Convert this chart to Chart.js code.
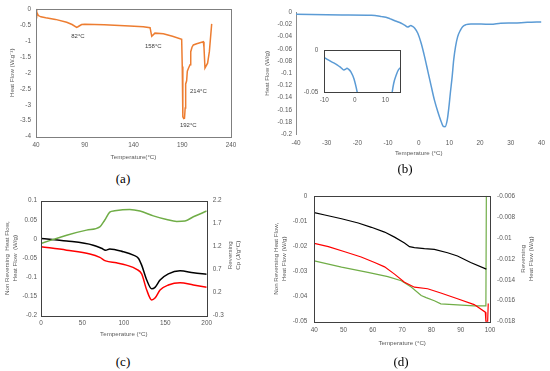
<!DOCTYPE html>
<html>
<head>
<meta charset="utf-8">
<script src="https://cdn.jsdelivr.net/npm/chart.js@4.4.1/dist/chart.umd.min.js"></script>
<style>
  body { margin: 0; background: #fff; width: 550px; height: 371px; position: relative; overflow: hidden; }
  canvas { position: absolute; }
  .tag { position: absolute; font: 13px "Liberation Serif", "Times New Roman", serif; color: #000; transform: translate(-50%, -50%); }
</style>
</head>
<body>
<canvas id="ca" width="275" height="165" style="left:0;top:0"></canvas>
<canvas id="cb" width="295" height="165" style="left:255px;top:0"></canvas>
<canvas id="cbi" width="110" height="70" style="left:300px;top:40px"></canvas>
<canvas id="cc" width="250" height="152" style="left:0;top:190px"></canvas>
<canvas id="cd" width="278" height="165" style="left:272px;top:185px"></canvas>
<div class="tag" style="left:123px;top:179px">(a)</div>
<div class="tag" style="left:405px;top:169px">(b)</div>
<div class="tag" style="left:123px;top:362px">(c)</div>
<div class="tag" style="left:401px;top:362px">(d)</div>
<script>
// ---- (a) heat flow vs temperature
const aTemp = [40, 40.7, 42.4, 45, 50, 60, 71.5, 77, 81.7, 83, 86.8, 90, 110, 136, 150, 157, 158.7, 162, 170.6, 180,
  189.4, 190, 190.6, 191.5, 192.3, 193, 193.5, 194.5, 195.2, 196.5, 198, 198.7, 200, 201.4, 204.8, 211.6, 212.3, 213.3, 216, 217.8, 220.2];
const aFlow = [0, -0.1, -0.21, -0.25, -0.28, -0.33, -0.42, -0.49, -0.58, -0.56, -0.49, -0.48, -0.5, -0.54, -0.56, -0.59, -0.86, -0.76, -0.78, -0.86,
  -0.95, -1.8, -3.38, -3.43, -3.42, -3.1, -2.35, -2.25, -1.95, -1.85, -1.75, -1.34, -1.2, -1.13, -1.09, -1.03, -1.2, -1.85, -1.7, -1.34, -0.47];
const aXTicks = [40, 90, 140, 190, 240];
const aYTicks = [0, -0.5, -1, -1.5, -2, -2.5, -3, -3.5, -4];
const aNoteText = ['82°C', '158°C', '192°C', '214°C'];
const aNoteTemp = [83, 160.3, 196.2, 206.5];
const aNoteFlow = [-0.85, -1.16, -3.64, -2.57];

// ---- (b) heat flow, plus zoomed inset
const bTemp = [-40, -25, -15.4, -12.1, -10, -8.9, -7.6, -5.7, -4.6, -3.6, -3, -2.6, -2, -1.3, -0.3, 0.8, 1.9, 3, 4.1, 5.1,
  6.2, 7.3, 8.1, 8.6, 9.3, 9.8, 10.3, 10.9, 11.4, 12, 12.7, 13.6, 14.3, 15.4, 17, 20.3, 23.5, 26.7, 31.1, 35.4, 40];
const bFlow = [-0.0033, -0.0044, -0.0049, -0.0071, -0.0092, -0.0115, -0.0142, -0.018, -0.021, -0.024, -0.0228, -0.0218, -0.0232, -0.0262, -0.0344, -0.0508, -0.0726, -0.0972, -0.1218, -0.1436,
  -0.1627, -0.179, -0.1873, -0.1875, -0.1764, -0.1572, -0.1327, -0.1054, -0.0781, -0.0562, -0.0399, -0.0292, -0.0235, -0.0202, -0.0191, -0.0191, -0.0197, -0.018, -0.0175, -0.0164, -0.0158];
const bXTicks = [-40, -30, -20, -10, 0, 10, 20, 30, 40];
const bYTicks = [0, -0.02, -0.04, -0.06, -0.08, -0.1, -0.12, -0.14, -0.16, -0.18, -0.2];
const insetXTicks = [-10, 0, 10];
const insetYTicks = [0, -0.05];

// ---- (c) modulated DSC
const cTempBlack = [0, 31, 63, 73, 78, 83, 99, 111.5, 117.5, 121.5, 127.6, 133.6, 137.6, 143.7, 153.7, 167.8, 183.9, 200];
const cFlowBlack = [0.0017, -0.005, -0.016, -0.024, -0.029, -0.026, -0.033, -0.042, -0.05, -0.068, -0.107, -0.13, -0.126, -0.107, -0.091, -0.083, -0.088, -0.092];
const cTempRed = [0, 31, 59, 71, 78, 91, 103, 115.5, 121.5, 127.6, 133.6, 137.6, 143.7, 153.7, 167.8, 183.9, 200];
const cFlowRed = [-0.02, -0.029, -0.039, -0.048, -0.057, -0.062, -0.068, -0.079, -0.091, -0.133, -0.159, -0.154, -0.133, -0.12, -0.114, -0.12, -0.126];
const cTempGreen = [0, 31, 55, 71, 77, 83, 89, 107, 119.5, 135.6, 151.7, 163.8, 173.8, 183.9, 200];
const cCpGreen = [1.27, 1.45, 1.56, 1.63, 1.78, 1.95, 1.98, 2.01, 1.975, 1.87, 1.79, 1.75, 1.76, 1.85, 1.975];
const cXTicks = [0, 50, 100, 150, 200];
const cYTicks = [0.1, 0.05, 0, -0.05, -0.1, -0.15, -0.2];
const cY1Ticks = [2.2, 1.7, 1.2, 0.7, 0.2, -0.3];

// ---- (d) modulated DSC, 40-100 °C
const dTempBlack = [40, 43.6, 49.3, 55, 59.5, 64, 67.4, 70.8, 72.5, 74.2, 77.6, 81, 85.5, 88.9, 93.4, 98.75];
const dFlowBlack = [-0.0067, -0.0076, -0.0091, -0.0108, -0.0125, -0.0144, -0.0164, -0.0187, -0.0202, -0.0206, -0.021, -0.0213, -0.0226, -0.0239, -0.0265, -0.0291];
const dTempRed = [40, 44.8, 50.4, 56, 60.6, 64, 67.4, 70.8, 74.2, 78.7, 83.2, 88.9, 94.6, 98.4, 98.6, 99.2, 99.4];
const dFlowRed = [-0.0189, -0.0202, -0.0222, -0.0243, -0.0265, -0.0282, -0.0311, -0.0343, -0.0363, -0.0369, -0.0386, -0.0409, -0.0432, -0.0462, -0.0499, -0.0499, -0.0428];
const dTempGreen = [40, 49.3, 58.3, 65.1, 69.7, 73.1, 76.5, 78.2, 81, 83.2, 88.9, 94.6, 98.6, 98.75];
const dRevGreen = [-0.0122, -0.0128, -0.0133, -0.0137, -0.0141, -0.0147, -0.0155, -0.0157, -0.016, -0.0163, -0.0164, -0.0165, -0.0165, -0.006];
const dXTicks = [40, 50, 60, 70, 80, 90, 100];
const dYTicks = [0, -0.01, -0.02, -0.03, -0.04, -0.05];
const dY1Ticks = [-0.006, -0.008, -0.01, -0.012, -0.014, -0.016, -0.018];

const grey = '#595959';
const fam = '"Liberation Sans", Arial, sans-serif';
const tickFont = { family: fam, size: 6.4 };
const titleFont = { family: fam, size: 6.2, lineHeight: 1.3 };

const pts = (xs, ys) => xs.map((x, i) => ({ x: x, y: ys[i] }));

function axis(o) {
  return {
    type: 'linear',
    position: o.position,
    min: o.min,
    max: o.max,
    grid: { display: false, drawTicks: false },
    border: { display: !!o.line, color: o.line || grey, width: 1 },
    ticks: { font: tickFont, color: grey, padding: o.pad, autoSkip: false, maxRotation: 0, callback: v => String(v) },
    title: o.title ? { display: true, text: o.title, font: titleFont, color: grey, padding: o.titlePad } : { display: false },
    afterBuildTicks: s => { s.ticks = o.ticks.map(v => ({ value: v })); },
    afterFit: s => { if (s.isHorizontal()) s.height = o.size; else s.width = o.size; }
  };
}

// box round the plot area
const frameBox = {
  id: 'frameBox',
  afterDatasetsDraw(chart, args, opts) {
    if (!opts.color) return;
    const a = chart.chartArea, c = chart.ctx;
    c.save();
    c.strokeStyle = opts.color;
    c.lineWidth = 1;
    c.strokeRect(Math.round(a.left) + 0.5, Math.round(a.top) + 0.5, Math.round(a.right - a.left), Math.round(a.bottom - a.top));
    c.restore();
  }
};

// right axis titles read bottom-to-top like the left ones
const sideTitle = {
  id: 'sideTitle',
  afterDraw(chart, args, opts) {
    if (!opts.lines) return;
    const a = chart.chartArea, c = chart.ctx;
    c.save();
    c.font = '6.2px ' + fam;
    c.fillStyle = grey;
    c.textAlign = 'center';
    c.textBaseline = 'middle';
    opts.lines.forEach((t, i) => {
      c.save();
      c.translate(opts.x + i * opts.gap, (a.top + a.bottom) / 2 + (opts.dy || 0));
      c.rotate(-Math.PI / 2);
      c.fillText(t, 0, 0);
      c.restore();
    });
    c.restore();
  }
};

// peak temperatures in (a)
const peakNotes = {
  id: 'peakNotes',
  afterDatasetsDraw(chart, args, opts) {
    if (!opts.text) return;
    const c = chart.ctx, xs = chart.scales.x, ys = chart.scales.y;
    c.save();
    c.font = '6px ' + fam;
    c.fillStyle = '#404040';
    c.textAlign = 'center';
    c.textBaseline = 'middle';
    opts.text.forEach((t, i) => c.fillText(t, xs.getPixelForValue(opts.x[i]), ys.getPixelForValue(opts.y[i])));
    c.restore();
  }
};

const base = {
  responsive: false,
  animation: false,
  events: [],
  elements: { point: { radius: 0 } }
};

// (a)
new Chart(document.getElementById('ca'), {
  type: 'line',
  data: { datasets: [{ data: pts(aTemp, aFlow), borderColor: '#ED7D31', borderWidth: 1.5, tension: 0 }] },
  options: Object.assign({}, base, {
    layout: { padding: { left: 0, top: 6.3, right: 44, bottom: 0 } },
    scales: {
      x: axis({ position: 'bottom', min: 40, max: 240, ticks: aXTicks, pad: 5, size: 28.3, title: 'Temperature(°C)', titlePad: { bottom: 4 } }),
      y: axis({ position: 'left', min: -4, max: 0, ticks: aYTicks, pad: 5, size: 36, title: 'Heat Flow (W.g⁻¹)', titlePad: { top: 8.3 } })
    },
    plugins: {
      legend: { display: false }, tooltip: { enabled: false },
      frameBox: { color: '#7f7f7f' },
      peakNotes: { text: aNoteText, x: aNoteTemp, y: aNoteFlow }
    }
  }),
  plugins: [frameBox, peakNotes]
});

// (b)
new Chart(document.getElementById('cb'), {
  type: 'line',
  data: { datasets: [{ data: pts(bTemp, bFlow), borderColor: '#5B9BD5', borderWidth: 1.5, cubicInterpolationMode: 'monotone' }] },
  options: Object.assign({}, base, {
    layout: { padding: { left: 0, top: 12.3, right: 7.3, bottom: 0 } },
    scales: {
      x: axis({ position: 'bottom', min: -40, max: 40, ticks: bXTicks, pad: 5, size: 30.7, title: 'Temperature (°C)', titlePad: { bottom: 7.3 } }),
      y: axis({ position: 'left', min: -0.2, max: 0, ticks: bYTicks, pad: 4, size: 41, line: '#8c8c8c', title: 'Heat Flow (W/g)', titlePad: { top: 8 } })
    },
    plugins: { legend: { display: false }, tooltip: { enabled: false } }
  })
});

// (b) inset
new Chart(document.getElementById('cbi'), {
  type: 'line',
  data: { datasets: [{ data: pts(bTemp, bFlow), borderColor: '#5B9BD5', borderWidth: 1.5, cubicInterpolationMode: 'monotone' }] },
  options: Object.assign({}, base, {
    layout: { padding: { left: 0, top: 8.7, right: 9.3, bottom: 0 } },
    scales: {
      x: axis({ position: 'bottom', min: -10, max: 15, ticks: insetXTicks, pad: 4.5, size: 18 }),
      y: axis({ position: 'left', min: -0.05, max: 0, ticks: insetYTicks, pad: 6, size: 24.3 })
    },
    plugins: { legend: { display: false }, tooltip: { enabled: false }, frameBox: { color: '#404040' } }
  }),
  plugins: [frameBox]
});

// (c)
new Chart(document.getElementById('cc'), {
  type: 'line',
  data: { datasets: [
    { data: pts(cTempGreen, cCpGreen), yAxisID: 'y1', borderColor: '#70AD47', borderWidth: 1.5, cubicInterpolationMode: 'monotone' },
    { data: pts(cTempBlack, cFlowBlack), borderColor: '#000000', borderWidth: 1.5, cubicInterpolationMode: 'monotone' },
    { data: pts(cTempRed, cFlowRed), borderColor: '#FF0000', borderWidth: 1.5, cubicInterpolationMode: 'monotone' }
  ] },
  options: Object.assign({}, base, {
    layout: { padding: { left: 0, top: 10.7, right: 0, bottom: 0 } },
    scales: {
      x: axis({ position: 'bottom', min: 0, max: 200, ticks: cXTicks, pad: 4, size: 26.3, title: 'Temperature (°C)', titlePad: { bottom: 4 } }),
      y: axis({ position: 'left', min: -0.2, max: 0.1, ticks: cYTicks, pad: 4, size: 41, title: ['Non Reversing  Heat Flow,', 'Heat Flow  (W/g)'], titlePad: { top: 3 } }),
      y1: axis({ position: 'right', min: -0.3, max: 2.2, ticks: cY1Ticks, pad: 6, size: 43.3 })
    },
    plugins: {
      legend: { display: false }, tooltip: { enabled: false },
      frameBox: { color: '#404040' },
      sideTitle: { lines: ['Reversing', 'Cp (J/g°C)'], x: 230, gap: 8.5, dy: -3 }
    }
  }),
  plugins: [frameBox, sideTitle]
});

// (d)
new Chart(document.getElementById('cd'), {
  type: 'line',
  data: { datasets: [
    { data: pts(dTempBlack, dFlowBlack), borderColor: '#000000', borderWidth: 1.2 },
    { data: pts(dTempRed, dFlowRed), borderColor: '#FF0000', borderWidth: 1.2 },
    { data: pts(dTempGreen, dRevGreen), yAxisID: 'y1', borderColor: '#70AD47', borderWidth: 1.2 }
  ] },
  options: Object.assign({}, base, {
    layout: { padding: { left: 0, top: 9, right: 0, bottom: 0 } },
    scales: {
      x: axis({ position: 'bottom', min: 40, max: 100, ticks: dXTicks, pad: 4.5, size: 28.3, title: 'Temperature (°C)', titlePad: { bottom: 2.7 } }),
      y: axis({ position: 'left', min: -0.05, max: 0, ticks: dYTicks, pad: 7, size: 42.3, title: ['Non Reversing Heat Flow,', 'Heat Flow (W/g)'], titlePad: { top: 0.5 } }),
      y1: axis({ position: 'right', min: -0.018, max: -0.006, ticks: dY1Ticks, pad: 7, size: 60 })
    },
    plugins: {
      legend: { display: false }, tooltip: { enabled: false },
      frameBox: { color: '#404040' },
      sideTitle: { lines: ['Reversing', 'Heat Flow (W/g)'], x: 251, gap: 8.7 }
    }
  }),
  plugins: [frameBox, sideTitle]
});
</script>
</body>
</html>
